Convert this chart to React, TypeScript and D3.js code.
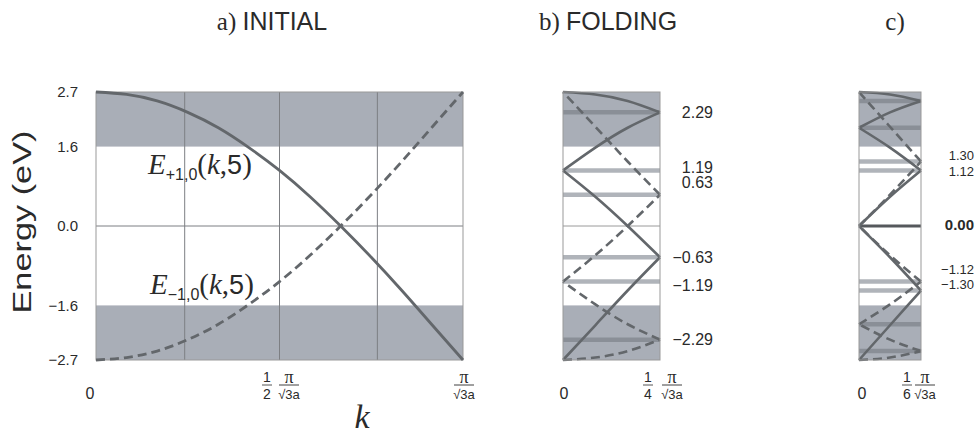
import React from 'react'
import * as d3 from 'd3'

// k in twelfths of pi/(sqrt3 a)
const kSteps = [0, 1, 2, 3, 4, 5, 6, 7, 8, 9, 10, 11, 12]
const ePlus = [2.7, 2.65, 2.52, 2.29, 1.98, 1.58, 1.12, 0.59, 0.0, -0.63, -1.3, -2.0, -2.7]
const eMinus = [-2.7, -2.65, -2.52, -2.29, -1.98, -1.58, -1.12, -0.59, 0.0, 0.63, 1.3, 2.0, 2.7]

const yTicks = [2.7, 1.6, 0.0, -1.6, -2.7]
const gapBands = [
  [1.6, 2.7],
  [-2.7, -1.6]
]
const gridK = [2.9, 6, 9.2]

const levelsB = [2.29, 1.12, 0.63, -0.63, -1.12, -2.29]
const labelsB = ['2.29', '1.19', '0.63', '\u22120.63', '\u22121.19', '\u22122.29']
const labelValsB = [2.29, 1.19, 0.63, -0.63, -1.19, -2.29]

const levelsC = [2.52, 1.98, 1.3, 1.12, -1.12, -1.3, -1.98, -2.52]
const labelsC = ['1.30', '1.12', '0.00', '\u22121.12', '\u22121.30']
const labelValsC = [1.3, 1.12, 0.0, -1.12, -1.3]

const SANS = 'Liberation Sans, Arial, sans-serif'
const SERIF = 'Liberation Serif, Times New Roman, serif'
const BAND = '#a9aeb7'
const CURVE = '#63676b'
const INK = '#2a2a2a'

const yScale = d3.scaleLinear().domain([-2.7, 2.7]).range([360, 92])

// fold the band into n pieces of the zone
function fold(e: number[], n: number) {
  const L = 12 / n
  const segs: [number, number][][] = []
  for (let s = 0; s < n; s++) {
    const seg: [number, number][] = []
    kSteps.forEach((k, i) => {
      if (k >= s * L && k <= (s + 1) * L) {
        const kl = s % 2 === 0 ? k - s * L : (s + 1) * L - k
        seg.push([kl, e[i]])
      }
    })
    segs.push(seg)
  }
  return segs
}

function Frac({ x, y, num, den, size = 14 }: any) {
  return (
    <g fontFamily={SANS} fontSize={size} fill={INK} textAnchor="middle">
      <text x={x} y={y - 3}>{num}</text>
      <line x1={x - 5} x2={x + 5} y1={y} y2={y} stroke={INK} strokeWidth={0.8} />
      <text x={x} y={y + 14}>{den}</text>
    </g>
  )
}

function PiFrac({ x, y }: any) {
  return (
    <g fill={INK} textAnchor="middle">
      <text x={x} y={y - 2} fontFamily={SERIF} fontSize={18}>{'\u03c0'}</text>
      <line x1={x - 10} x2={x + 10} y1={y} y2={y} stroke={INK} strokeWidth={0.9} />
      <text x={x} y={y + 14} fontFamily={SANS} fontSize={13}>{'\u221a3a'}</text>
    </g>
  )
}

function FoldPanel({ x0, x1, n, levels, zeroThick }: any) {
  const x = d3.scaleLinear().domain([0, 12 / n]).range([x0, x1])
  const line = d3
    .line<[number, number]>()
    .x(d => x(d[0]))
    .y(d => yScale(d[1]))
    .curve(d3.curveNatural)
  return (
    <g>
      <rect x={x0} y={yScale(2.7)} width={x1 - x0} height={yScale(-2.7) - yScale(2.7)} fill="#fff" />
      {gapBands.map((b, i) => (
        <rect key={i} x={x0} width={x1 - x0} y={yScale(b[1])} height={yScale(b[0]) - yScale(b[1])} fill={BAND} />
      ))}
      {levels.map((v: number, i: number) => (
        <line
          key={i}
          x1={x0}
          x2={x1}
          y1={yScale(v)}
          y2={yScale(v)}
          stroke={Math.abs(v) > 1.6 ? '#8a8f97' : '#b0b4ba'}
          strokeWidth={4.5}
        />
      ))}
      <line
        x1={x0}
        x2={x1}
        y1={yScale(0)}
        y2={yScale(0)}
        stroke={zeroThick ? '#55585c' : '#9a9a9a'}
        strokeWidth={zeroThick ? 3 : 1}
      />
      {fold(ePlus, n).map((s, i) => (
        <path key={'p' + i} d={line(s) || ''} fill="none" stroke={CURVE} strokeWidth={2.6} />
      ))}
      {fold(eMinus, n).map((s, i) => (
        <path key={'m' + i} d={line(s) || ''} fill="none" stroke={CURVE} strokeWidth={2.6} strokeDasharray="9,5" />
      ))}
      <rect x={x0} y={yScale(2.7)} width={x1 - x0} height={yScale(-2.7) - yScale(2.7)} fill="none" stroke="#999" />
    </g>
  )
}

export default function App() {
  const xA = d3.scaleLinear().domain([0, 12]).range([96, 463])
  const lineA = d3
    .line<number>()
    .x((d, i) => xA(kSteps[i]))
    .y(d => yScale(d))
    .curve(d3.curveNatural)

  const curveLabel = (x: number, y: number, sub: string) => (
    <text x={x} y={y} fill={INK}>
      <tspan fontFamily={SERIF} fontStyle="italic" fontSize={29}>E</tspan>
      <tspan fontFamily={SANS} fontSize={16} dy={6}>{sub}</tspan>
      <tspan fontFamily={SERIF} fontSize={29} dy={-6}>(</tspan>
      <tspan fontFamily={SERIF} fontStyle="italic" fontSize={29}>k</tspan>
      <tspan fontFamily={SERIF} fontSize={29}>,</tspan>
      <tspan fontFamily={SANS} fontSize={27}>5</tspan>
      <tspan fontFamily={SERIF} fontSize={29}>)</tspan>
    </text>
  )

  return (
    <svg width={976} height={444} style={{ position: 'absolute', left: 0, top: 0, background: '#fff' }}>
      {/* titles */}
      <text x={272} y={30} textAnchor="middle" fontSize={25} fill={INK}>
        <tspan fontFamily={SERIF}>a) </tspan>
        <tspan fontFamily={SANS}>INITIAL</tspan>
      </text>
      <text x={608} y={30} textAnchor="middle" fontSize={25} fill={INK}>
        <tspan fontFamily={SERIF}>b) </tspan>
        <tspan fontFamily={SANS}>FOLDING</tspan>
      </text>
      <text x={895} y={30} textAnchor="middle" fontSize={25} fill={INK} fontFamily={SERIF}>
        c)
      </text>

      {/* panel a */}
      <rect x={96} y={yScale(2.7)} width={367} height={yScale(-2.7) - yScale(2.7)} fill="#fff" />
      {gapBands.map((b, i) => (
        <rect key={i} x={96} width={367} y={yScale(b[1])} height={yScale(b[0]) - yScale(b[1])} fill={BAND} />
      ))}
      {gridK.map(k => (
        <line key={k} x1={xA(k)} x2={xA(k)} y1={yScale(2.7)} y2={yScale(-2.7)} stroke="#7d7f83" strokeWidth={1} />
      ))}
      <line x1={96} x2={463} y1={yScale(0)} y2={yScale(0)} stroke="#7d7f83" strokeWidth={1} />
      <rect x={96} y={yScale(2.7)} width={367} height={yScale(-2.7) - yScale(2.7)} fill="none" stroke="#999" />
      <path d={lineA(ePlus) || ''} fill="none" stroke={CURVE} strokeWidth={2.8} />
      <path d={lineA(eMinus) || ''} fill="none" stroke={CURVE} strokeWidth={2.8} strokeDasharray="9,5" />

      {yTicks.map(t => (
        <text key={t} x={78} y={yScale(t)} dy="0.35em" textAnchor="end" fontFamily={SANS} fontSize={15} fill={INK}>
          {t < 0 ? '\u2212' + Math.abs(t).toFixed(1) : t.toFixed(1)}
        </text>
      ))}
      <text
        transform="translate(31,222) rotate(-90)"
        textAnchor="middle"
        fontFamily={SANS}
        fontSize={26}
        fill={INK}
        textLength={183}
        lengthAdjust="spacingAndGlyphs"
      >
        Energy (eV)
      </text>

      {/* curve labels */}
      {curveLabel(148, 174, '+1,0')}
      {curveLabel(150, 294, '\u22121,0')}

      {/* x labels a */}
      <text x={90} y={399} textAnchor="middle" fontFamily={SANS} fontSize={16} fill={INK}>0</text>
      <Frac x={267} y={385} num="1" den="2" />
      <PiFrac x={289} y={385} />
      <PiFrac x={464} y={385} />
      <text x={362} y={428} textAnchor="middle" fontFamily={SERIF} fontStyle="italic" fontSize={34} fill={INK}>
        k
      </text>

      {/* panel b */}
      <FoldPanel x0={563} x1={660} n={4} levels={levelsB} zeroThick={false} />
      {labelsB.map((l, i) => (
        <text
          key={l}
          x={713}
          y={yScale(labelValsB[i]) + (l === '0.63' ? -12 : 0)}
          dy="0.35em"
          textAnchor="end"
          fontFamily={SANS}
          fontSize={16}
          fill={INK}
        >
          {l}
        </text>
      ))}
      <text x={564} y={399} textAnchor="middle" fontFamily={SANS} fontSize={16} fill={INK}>0</text>
      <Frac x={648} y={385} num="1" den="4" />
      <PiFrac x={672} y={385} />

      {/* panel c */}
      <FoldPanel x0={859} x1={921} n={6} levels={levelsC} zeroThick={true} />
      {labelsC.map((l, i) => {
        const v = labelValsC[i]
        const nudge = v === 1.3 ? -6 : v === 1.12 ? 1 : v === -1.12 ? -12 : v === -1.3 ? -6 : -1
        return (
          <text
            key={l}
            x={974}
            y={yScale(v) + nudge}
            dy="0.35em"
            textAnchor="end"
            fontFamily={SANS}
            fontSize={v === 0 ? 15 : 13}
            fontWeight={v === 0 ? 'bold' : 'normal'}
            fill={INK}
          >
            {l}
          </text>
        )
      })}
      <text x={862} y={399} textAnchor="middle" fontFamily={SANS} fontSize={16} fill={INK}>0</text>
      <Frac x={907} y={385} num="1" den="6" />
      <PiFrac x={925} y={385} />
    </svg>
  )
}
